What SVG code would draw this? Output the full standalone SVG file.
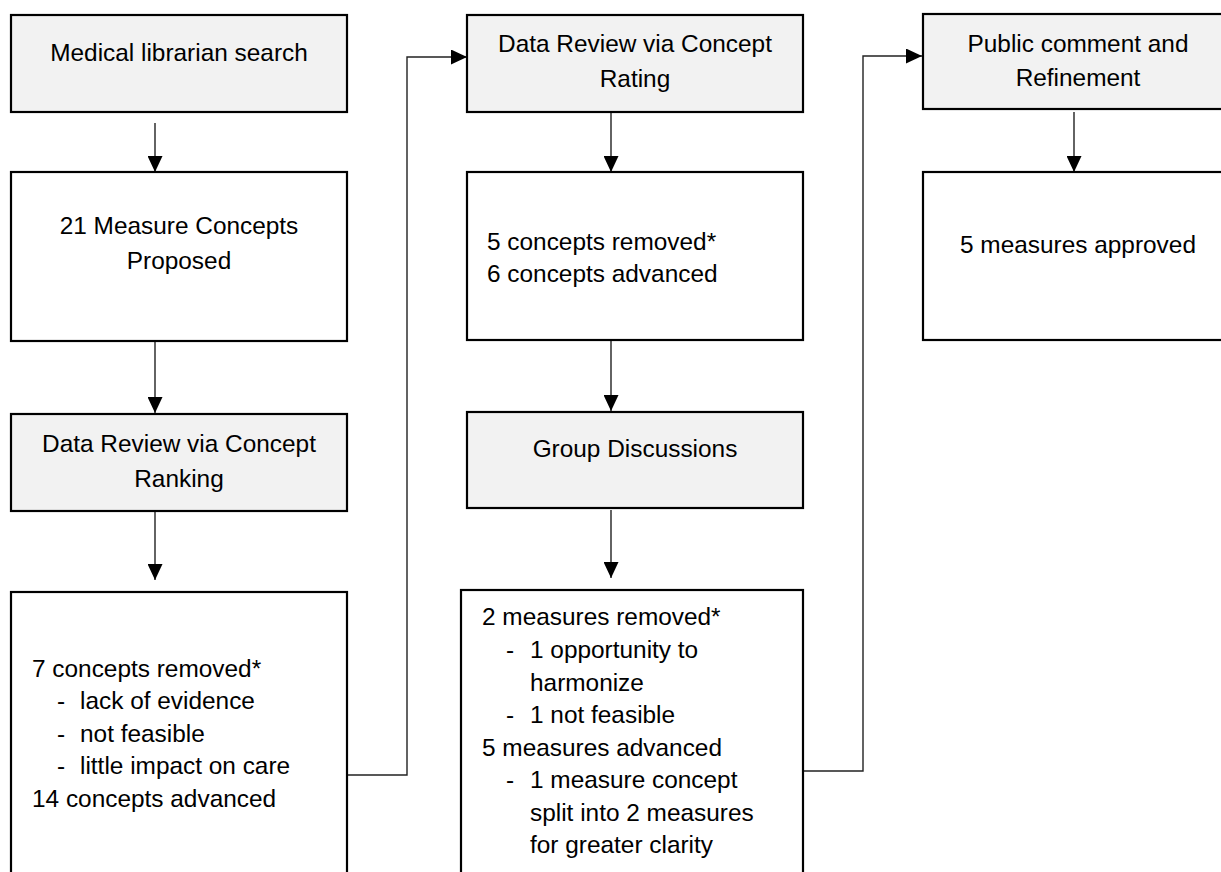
<svg xmlns="http://www.w3.org/2000/svg" width="1221" height="872" viewBox="0 0 1221 872">
<defs>
<style>
.box{fill:#ffffff;stroke:#000;stroke-width:2.2}
.hdr{fill:#f2f2f2;stroke:#000;stroke-width:2.2}
.t{font-family:"Liberation Sans",Arial,sans-serif;font-size:24.4px;fill:#000}
.c{text-anchor:middle}
.conn{fill:none;stroke:#222;stroke-width:1.4}
</style>
<marker id="ah" markerUnits="userSpaceOnUse" markerWidth="16" markerHeight="15" refX="16" refY="7.5" orient="auto">
<path d="M0,0 L16,7.5 L0,15 Z" fill="#000"/>
</marker>
</defs>
<rect width="1221" height="872" fill="#fff"/>

<g id="connectors">
<line class="conn" x1="155" y1="123" x2="155" y2="172" marker-end="url(#ah)"/>
<line class="conn" x1="155" y1="342" x2="155" y2="413" marker-end="url(#ah)"/>
<line class="conn" x1="155" y1="512" x2="155" y2="580" marker-end="url(#ah)"/>
<line class="conn" x1="611" y1="112" x2="611" y2="172" marker-end="url(#ah)"/>
<line class="conn" x1="611" y1="341" x2="611" y2="411" marker-end="url(#ah)"/>
<line class="conn" x1="611" y1="510" x2="611" y2="578" marker-end="url(#ah)"/>
<line class="conn" x1="1074" y1="112" x2="1074" y2="172" marker-end="url(#ah)"/>
<polyline class="conn" points="347,775 407,775 407,57 467,57" marker-end="url(#ah)"/>
<polyline class="conn" points="803,771 863,771 863,56 922,56" marker-end="url(#ah)"/>
</g>

<g id="n1">
<rect class="hdr" x="11" y="15" width="336" height="97"/>
<text class="t c" x="179" y="61">Medical librarian search</text>
</g>
<g id="n2">
<rect class="box" x="11" y="172" width="336" height="169"/>
<text class="t c" x="179" y="234">21 Measure Concepts</text>
<text class="t c" x="179" y="269">Proposed</text>
</g>
<g id="n3">
<rect class="hdr" x="11" y="414" width="336" height="97"/>
<text class="t c" x="179" y="452">Data Review via Concept</text>
<text class="t c" x="179" y="487">Ranking</text>
</g>
<g id="n4">
<rect class="box" x="11" y="592" width="336" height="300"/>
<text class="t" x="32" y="677">7 concepts removed*</text>
<text class="t" x="57" y="709">-</text><text class="t" x="80" y="709">lack of evidence</text>
<text class="t" x="57" y="742">-</text><text class="t" x="80" y="742">not feasible</text>
<text class="t" x="57" y="774">-</text><text class="t" x="80" y="774">little impact on care</text>
<text class="t" x="32" y="807">14 concepts advanced</text>
</g>
<g id="n5">
<rect class="hdr" x="467" y="15" width="336" height="97"/>
<text class="t c" x="635" y="52">Data Review via Concept</text>
<text class="t c" x="635" y="87">Rating</text>
</g>
<g id="n6">
<rect class="box" x="467" y="172" width="336" height="168"/>
<text class="t" x="487" y="250">5 concepts removed*</text>
<text class="t" x="487" y="282">6 concepts advanced</text>
</g>
<g id="n7">
<rect class="hdr" x="467" y="412" width="336" height="96"/>
<text class="t c" x="635" y="457">Group Discussions</text>
</g>
<g id="n8">
<rect class="box" x="461" y="590" width="342" height="300"/>
<text class="t" x="482" y="625">2 measures removed*</text>
<text class="t" x="506" y="658">-</text><text class="t" x="530" y="658">1 opportunity to</text>
<text class="t" x="530" y="691">harmonize</text>
<text class="t" x="506" y="723">-</text><text class="t" x="530" y="723">1 not feasible</text>
<text class="t" x="482" y="756">5 measures advanced</text>
<text class="t" x="506" y="788">-</text><text class="t" x="530" y="788">1 measure concept</text>
<text class="t" x="530" y="821">split into 2 measures</text>
<text class="t" x="530" y="853">for greater clarity</text>
</g>
<g id="n9">
<rect class="hdr" x="923" y="14" width="320" height="95"/>
<text class="t c" x="1078" y="52">Public comment and</text>
<text class="t c" x="1078" y="86">Refinement</text>
</g>
<g id="n10">
<rect class="box" x="923" y="172" width="320" height="168"/>
<text class="t c" x="1078" y="253">5 measures approved</text>
</g>
</svg>
